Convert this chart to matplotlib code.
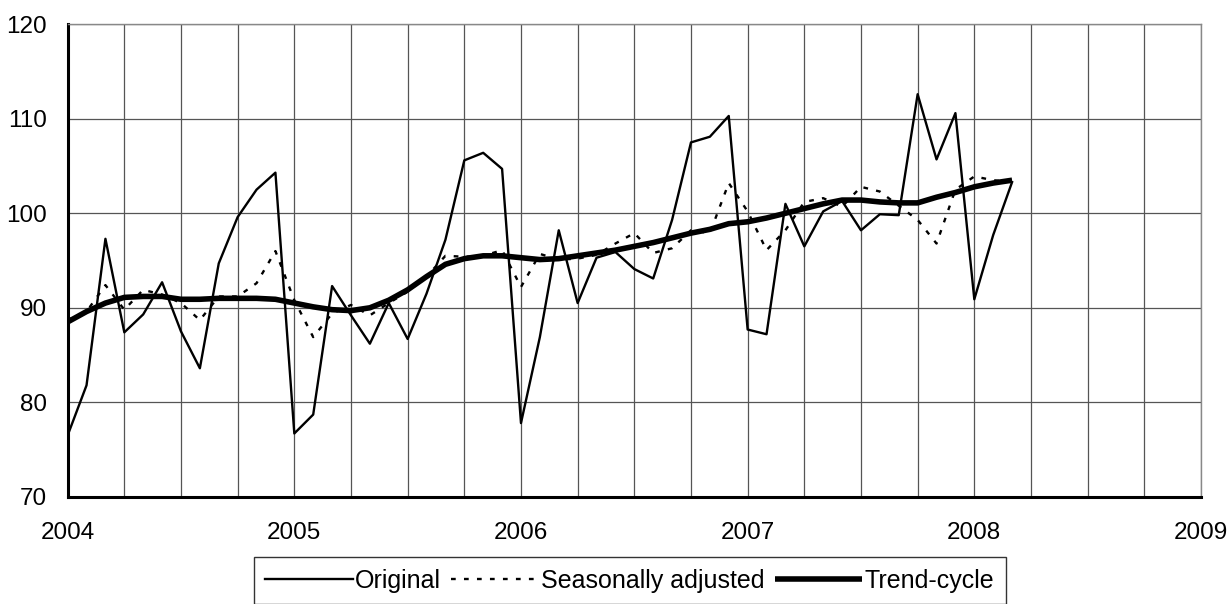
import matplotlib.pyplot as plt
import numpy as np

years = ["2004", "2005", "2006", "2007", "2008", "2009"]

# monthly values, Jan 2004 .. Mar 2008
original = [
    76.5, 81.8, 97.3, 87.4, 89.3, 92.7, 87.5, 83.6, 94.7, 99.6, 102.5, 104.3,
    76.7, 78.7, 92.3, 89.2, 86.2, 90.5, 86.7, 91.5, 97.2, 105.6, 106.4, 104.7,
    77.8, 86.9, 98.2, 90.5, 95.3, 95.9, 94.1, 93.1, 99.3, 107.5, 108.1, 110.3,
    87.7, 87.2, 101.0, 96.5, 100.2, 101.3, 98.2, 99.9, 99.8, 112.6, 105.7, 110.6,
    90.9, 97.7, 103.3,
]
seas_adj = [
    88.7, 89.6, 92.4, 89.8, 91.9, 91.4, 90.5, 88.7, 91.2, 91.2, 92.6, 96.0,
    90.8, 86.9, 89.4, 90.3, 89.2, 90.5, 91.7, 93.3, 95.5, 95.4, 95.5, 96.1,
    92.2, 95.7, 95.1, 95.2, 95.6, 96.8, 97.9, 95.8, 96.3, 98.2, 97.9, 103.2,
    100.2, 96.1, 98.2, 101.2, 101.6, 100.7, 102.8, 102.3, 100.8, 99.3, 96.8, 102.5,
    103.9, 103.5, 103.3,
]
trend = [
    88.5, 89.6, 90.5, 91.1, 91.2, 91.2, 90.9, 90.9, 91.0, 91.0, 91.0, 90.9,
    90.5, 90.1, 89.8, 89.7, 90.0, 90.8, 91.9, 93.3, 94.6, 95.2, 95.5, 95.5,
    95.3, 95.1, 95.2, 95.5, 95.8, 96.1, 96.5, 96.9, 97.4, 97.9, 98.3, 98.9,
    99.1, 99.5, 100.0, 100.5, 101.0, 101.4, 101.4, 101.2, 101.1, 101.1, 101.7, 102.2,
    102.8, 103.2, 103.5,
]
months = np.arange(len(original))

plt.rcParams["font.family"] = ["Liberation Sans", "DejaVu Sans"]
fig = plt.figure(figsize=(12.3, 6.04), dpi=100)
ax = fig.add_axes([0.055, 0.1775, 0.9214, 0.7823])

ax.plot(months, original, color="black", lw=1.7, label="Original")
ax.plot(months, seas_adj, color="black", lw=1.7, ls=(0, (2, 3.5)),
        label="Seasonally adjusted")
ax.plot(months, trend, color="black", lw=4, label="Trend-cycle",
        solid_capstyle="butt")

ax.set_xlim(0, 60)
ax.set_ylim(70, 120)
ax.set_xticks(np.arange(0, 61, 12))
ax.set_xticklabels(years)
ax.set_xticks(np.arange(0, 61, 3), minor=True)
ax.set_yticks(np.arange(70, 121, 10))
ax.tick_params(which="both", length=0, labelsize=17.5)
ax.tick_params(axis="x", pad=18)
ax.tick_params(axis="y", pad=15)
ax.grid(which="both", color="#555555", lw=0.9)
ax.set_axisbelow(True)

for side in ["top", "right"]:
    ax.spines[side].set_color("#888888")
    ax.spines[side].set_linewidth(1)
for side in ["left", "bottom"]:
    ax.spines[side].set_color("black")
    ax.spines[side].set_linewidth(2.2)

# legend box runs off the bottom edge like the reference
leg = fig.legend(
    loc="upper center",
    bbox_to_anchor=(0.512, 0.077),
    ncol=3,
    fontsize=18,
    frameon=True,
    fancybox=False,
    edgecolor="black",
    handlelength=3.5,
    handletextpad=0.1,
    columnspacing=0.4,
    borderpad=0.45,
    borderaxespad=0,
)
leg.get_frame().set_linewidth(1)

fig.savefig("out.png", dpi=100)
